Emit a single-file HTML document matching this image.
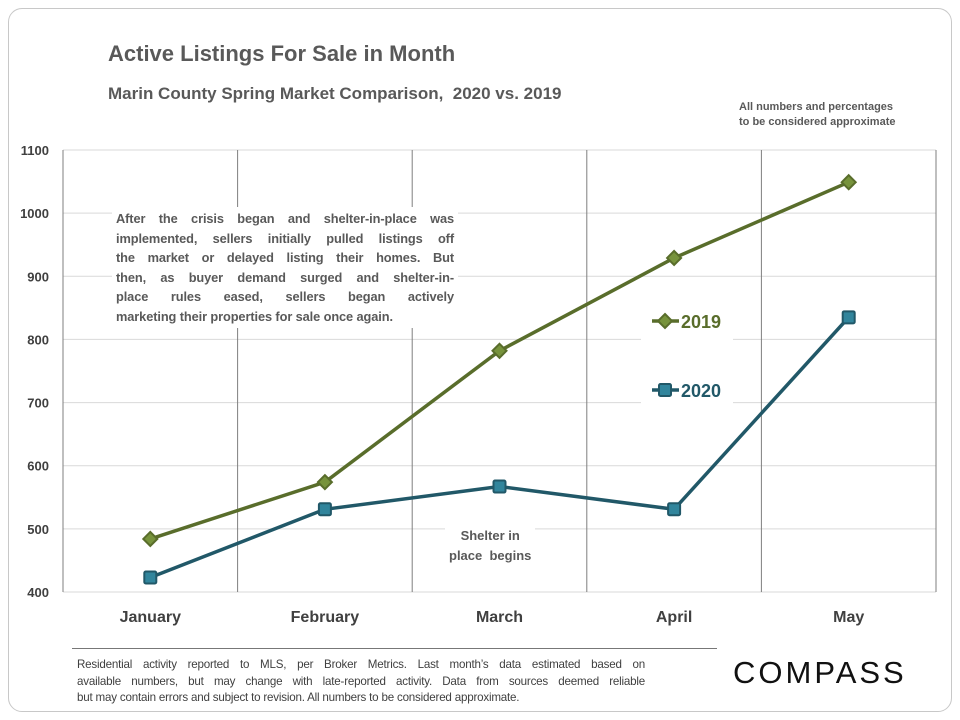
<!DOCTYPE html>
<html><head><meta charset="utf-8"><style>
body{margin:0;width:960px;height:720px;background:#fff;font-family:"Liberation Sans",sans-serif;overflow:hidden}
#card{position:absolute;left:8px;top:8px;width:942px;height:702px;border:1px solid #c8c8c8;border-radius:14px}
.t{position:absolute;color:#595959;font-weight:bold}
.j{text-align:justify;text-align-last:justify;white-space:nowrap}
.l{white-space:nowrap}
</style></head><body>
<div id="card"></div>
<div class="t" style="left:108px;top:41px;font-size:22px">Active Listings For Sale in Month</div>
<div class="t" style="left:108px;top:84px;font-size:17px">Marin County Spring Market Comparison,&nbsp; 2020 vs. 2019</div>
<div class="t" style="left:739px;top:100px;font-size:11px;line-height:15px">All numbers and percentages<br>to be considered approximate</div>
<svg id="chart" width="960" height="720" style="position:absolute;left:0;top:0"></svg>
<div class="t" style="left:112px;top:207px;width:338px;font-size:12.8px;line-height:19.5px;background:#fff;padding:2px 4px;letter-spacing:-0.1px">
<div class="j">After the crisis began and shelter-in-place was</div>
<div class="j">implemented, sellers initially pulled listings off</div>
<div class="j">the market or delayed listing their homes. But</div>
<div class="j">then, as buyer demand surged and shelter-in-</div>
<div class="j">place rules eased, sellers began actively</div>
<div class="l">marketing their properties for sale once again.</div>
</div>
<div class="t" style="left:445px;top:524px;font-size:13px;line-height:20px;text-align:center;background:#fff;padding:2px 4px">Shelter in<br>place &nbsp;begins</div>
<div style="position:absolute;left:72px;top:648px;width:645px;height:1px;background:#777"></div>
<div class="t" style="left:77px;top:657px;width:568px;font-size:11.6px;line-height:16.5px;font-weight:normal;color:#404040;letter-spacing:-0.2px">
<div class="j">Residential activity reported to MLS, per Broker Metrics. Last month’s data estimated based on</div>
<div class="j">available numbers, but may change with late-reported activity. Data from sources deemed reliable</div>
<div class="l">but may contain errors and subject to revision. All numbers to be considered approximate.</div>
</div>
<div style="position:absolute;left:733px;top:655px;font-size:31px;letter-spacing:3px;color:#111">COMPASS</div>
<script>
const categories=["January","February","March","April","May"];
const series2019=[484,574,782,929,1049];
const series2020=[423,531,567,531,835];
const yTicks=[400,500,600,700,800,900,1000,1100];
const svg=document.getElementById('chart');
const NS="http://www.w3.org/2000/svg";
const L=63,R=936,T=150,B=592,yMin=400,yMax=1100;
const bw=(R-L)/categories.length;
const x=i=>L+bw*(i+0.5);
const y=v=>B-(v-yMin)/(yMax-yMin)*(B-T);
function mk(tag,a){const e=document.createElementNS(NS,tag);for(const k in a)e.setAttribute(k,a[k]);svg.appendChild(e);return e;}
yTicks.forEach(v=>{
 const g=mk('line',{x1:L,x2:R,y1:y(v),y2:y(v),stroke:'#d9d9d9','stroke-width':1});
 
 
 const t=mk('text',{x:L-14,y:y(v)+5,'text-anchor':'end','font-size':13,'font-weight':'bold',fill:'#404040'});
 t.textContent=v;
 
 
});
for(let i=0;i<=categories.length;i++){
 const g=mk('line',{x1:L+bw*i,x2:L+bw*i,y1:T,y2:B,stroke:'#7f7f7f','stroke-width':1});
 
 
}
categories.forEach((c,i)=>{
 const t=mk('text',{x:x(i),y:B+30,'text-anchor':'middle','font-size':16,'font-weight':'bold',fill:'#404040'});
 t.textContent=c;
 
 
});
[[641,297],[641,366]].forEach(p=>{const r=mk('rect',{x:p[0],y:p[1],width:92,height:48,fill:'#fff'});
 
 });
function drawSeries(data,lc,fc,shape,name){
 const pl=mk('polyline',{points:data.map((v,i)=>x(i)+','+y(v)).join(' '),fill:'none',stroke:lc,'stroke-width':3.5});
 
 
 data.forEach((v,i)=>marker(x(i),y(v),lc,fc,shape,name+'-point'));
}
function marker(cx,cy,lc,fc,shape,nm){
 let m;
 if(shape==='d') m=mk('polygon',{points:`${cx},${cy-7} ${cx+7},${cy} ${cx},${cy+7} ${cx-7},${cy}`,fill:fc,stroke:lc,'stroke-width':2});
 else m=mk('rect',{x:cx-6,y:cy-6,width:12,height:12,rx:1.5,fill:fc,stroke:lc,'stroke-width':2});
 
 
}
drawSeries(series2019,'#596d2b','#77933c','d','series-2019');
drawSeries(series2020,'#215868','#31859c','s','series-2020');
[['2019',321,'#596d2b','#77933c','d'],['2020',390,'#215868','#31859c','s']].forEach(l=>{
 const ln=mk('line',{x1:652,x2:679,y1:l[1],y2:l[1],stroke:l[2],'stroke-width':3.5});
 
 
 marker(665,l[1],l[2],l[3],l[4],'legend-marker');
 const t=mk('text',{x:681,y:l[1]+7,'font-size':18,'font-weight':'bold',fill:l[2]});
 t.textContent=l[0];
 
 
});
</script>
</body></html>
